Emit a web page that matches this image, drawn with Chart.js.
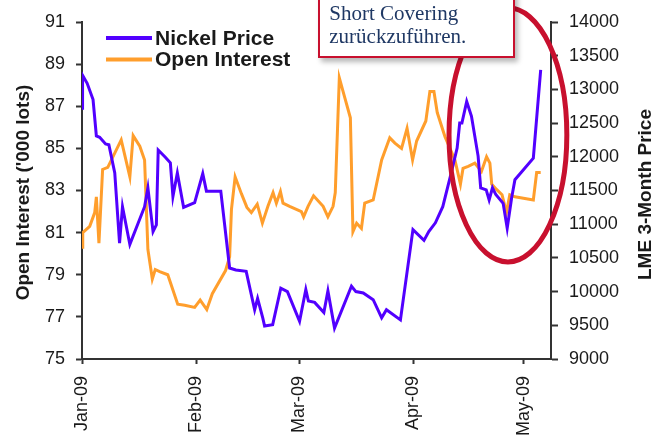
<!DOCTYPE html>
<html>
<head>
<meta charset="utf-8">
<script src="https://cdn.jsdelivr.net/npm/chart.js@4.4.1/dist/chart.umd.min.js"></script>
<style>
  html, body { margin: 0; padding: 0; background: #fff; }
  #wrap { position: relative; width: 653px; height: 435px; overflow: hidden; }
  #chart { position: absolute; left: 0; top: 0; }
  .note {
    position: absolute; left: 318px; top: -10px; width: 197px; height: 68px;
    box-sizing: border-box; border: 2px solid #C8102E; background: #fff;
    box-shadow: 3px 4px 5px rgba(0,0,0,0.28);
    font-family: 'Liberation Serif', 'Times New Roman', serif;
    font-size: 21px; line-height: 22.6px; color: #1F3864;
    padding: 10.3px 0 0 9.3px; white-space: nowrap;
  }
</style>
</head>
<body>
<div id="wrap">
  <canvas id="chart" width="653" height="435"></canvas>
  <div class="note">Short Covering<br>zurückzuführen.</div>
</div>
<script>
// Days counted from 1 Jan 2009
const monthTicks  = [0, 31, 59, 90, 120];
const monthLabels = ['Jan-09', 'Feb-09', 'Mar-09', 'Apr-09', 'May-09'];

// LME 3-month nickel price (USD/t), right axis
const nickelDays = [0, 0.15, 1.4, 3.0, 3.9, 4.8, 6.4, 7.3, 8.9, 10.2,
  11.0, 13.0, 17.0, 17.9, 19.3, 20.2, 20.7, 22.7, 24.0, 24.7,
  25.9, 27.6, 30.6, 32.8, 33.8, 37.7, 40.1, 41.8, 44.6, 46.9,
  47.7, 49.1, 49.6, 51.8, 54.0, 55.8, 59.1, 60.8, 61.5, 63.2,
  65.7, 66.8, 68.6, 73.2, 74.4, 76.4, 79.1, 81.4, 82.7, 86.5,
  89.9, 92.9, 94.2, 96.0, 98.0, 100.3, 101.9, 102.6, 103.2, 104.5,
  105.8, 107.6, 108.3, 109.8, 110.6, 111.5, 112.4, 114.4, 115.5, 116.7,
  117.6, 122.6, 124.6];
const nickelPrice = [12720, 13210, 13090, 12850, 12310, 12290, 12190, 12180, 11760, 10720,
  11260, 10700, 11260, 11540, 10890, 10990, 12100, 11990, 11910, 11410,
  11760, 11250, 11320, 11750, 11490, 11490, 10350, 10320, 10300, 9730,
  9900, 9610, 9490, 9510, 10050, 10000, 9560, 10030, 9860, 9840,
  9690, 10010, 9460, 10080, 10000, 9980, 9880, 9610, 9730, 9580,
  10920, 10760, 10890, 11020, 11260, 11760, 12130, 12500, 12500, 12820,
  12600, 12010, 11540, 11510, 11360, 11540, 11440, 11310, 10940, 11390,
  11660, 11980, 13290];

// Open interest ('000 lots), left axis
const oiDays = [0, 0.2, 2.1, 3.45, 3.9, 4.6, 5.6, 7.0, 10.65, 13.0,
  13.9, 15.7, 17.0, 17.9, 19.1, 19.9, 21.1, 23.3, 26.0, 27.9,
  30.6, 32.1, 33.9, 35.4, 39.0, 40.1, 40.6, 41.6, 43.3, 44.8,
  46.0, 47.6, 49.0, 50.5, 51.9, 52.8, 53.9, 54.6, 56.4, 59.6,
  60.2, 61.4, 62.9, 65.5, 66.8, 68.2, 68.8, 69.9, 71.4, 72.9,
  73.6, 74.6, 75.9, 76.8, 79.1, 81.4, 83.6, 85.0, 86.8, 88.3,
  89.8, 90.9, 93.4, 94.5, 95.6, 96.5, 98.6, 101.3, 102.8, 103.5,
  104.9, 106.7, 108.5, 109.9, 110.8, 111.3, 112.6, 114.1, 115.3, 116.2,
  117.6, 122.6, 123.5, 124.6];
const openInterest = [80.3, 81.0, 81.3, 81.95, 82.7, 80.5, 84.0, 84.1, 85.4, 83.65,
  85.6, 85.1, 84.45, 80.2, 78.8, 79.25, 79.15, 79.0, 77.6, 77.55,
  77.45, 77.8, 77.35, 78.1, 79.2, 79.85, 82.1, 83.65, 82.85, 82.2,
  81.95, 82.35, 81.45, 82.25, 82.9, 82.4, 82.95, 82.4, 82.25, 82.0,
  81.75, 82.25, 82.75, 82.25, 81.75, 82.25, 82.9, 88.35, 87.4, 86.45,
  81.05, 81.45, 81.2, 82.4, 82.55, 84.45, 85.5, 85.25, 85.0, 85.95,
  84.45, 85.35, 86.3, 87.7, 87.7, 86.7, 85.55, 84.45, 83.3, 84.05,
  84.15, 84.3, 83.9, 84.6, 84.3, 83.3, 83.05, 82.8, 81.95, 82.8,
  82.7, 82.55, 83.85, 83.85];

// Highlighted late-April window (days, price axis)
const ringDays  = [99.7, 131.7];
const ringPrice = [10440, 14210];

const leftTitle  = "Open Interest ('000 lots)";
const rightTitle = 'LME 3-Month Price';

const FONT = "'Liberation Sans', Arial, Helvetica, sans-serif";
const INK = '#1a1a1a';
const AXIS = '#333';

const toPoints = (xs, ys) => xs.map((d, i) => ({ x: d, y: ys[i] }));

const overlay = {
  id: 'overlay',
  afterDatasetsDraw(chart) {
    const { ctx } = chart;
    const xs = chart.scales.x, ys = chart.scales.y1;
    const x0 = xs.getPixelForValue(ringDays[0]), x1 = xs.getPixelForValue(ringDays[1]);
    const y0 = ys.getPixelForValue(ringPrice[0]), y1 = ys.getPixelForValue(ringPrice[1]);
    ctx.save();
    ctx.beginPath();
    ctx.ellipse((x0 + x1) / 2, (y0 + y1) / 2, Math.abs(x1 - x0) / 2, Math.abs(y1 - y0) / 2, 0, 0, Math.PI * 2);
    ctx.lineWidth = 5;
    ctx.strokeStyle = '#C8102E';
    ctx.stroke();
    ctx.restore();
  },
  afterDraw(chart) {
    const { ctx } = chart;
    ctx.save();
    // legend
    ctx.font = 'bold 21px ' + FONT;
    ctx.textBaseline = 'middle';
    ctx.textAlign = 'left';
    chart.data.datasets.forEach((ds, i) => {
      const y = 38 + i * 21.5;
      ctx.beginPath();
      ctx.moveTo(106, y);
      ctx.lineTo(152, y);
      ctx.lineWidth = 4;
      ctx.strokeStyle = ds.borderColor;
      ctx.stroke();
      ctx.fillStyle = INK;
      ctx.fillText(ds.label, 155, y + 1);
    });
    // axis titles, both reading upwards
    ctx.font = 'bold 19px ' + FONT;
    ctx.textAlign = 'center';
    ctx.textBaseline = 'alphabetic';
    ctx.fillStyle = INK;
    const mid = (chart.chartArea.top + chart.chartArea.bottom) / 2 + 2;
    ctx.save();
    ctx.translate(28.5, mid);
    ctx.rotate(-Math.PI / 2);
    ctx.fillText(leftTitle, 0, 0);
    ctx.restore();
    ctx.save();
    ctx.translate(651, mid + 2);
    ctx.rotate(-Math.PI / 2);
    ctx.fillText(rightTitle, 0, 0);
    ctx.restore();
    ctx.restore();
  }
};

new Chart(document.getElementById('chart'), {
  type: 'line',
  data: {
    datasets: [
      {
        label: 'Nickel Price',
        data: toPoints(nickelDays, nickelPrice),
        yAxisID: 'y1',
        borderColor: '#5200FF',
        borderWidth: 3,
        pointRadius: 0,
        tension: 0,
        fill: false
      },
      {
        label: 'Open Interest',
        data: toPoints(oiDays, openInterest),
        yAxisID: 'y',
        borderColor: '#FF9E2C',
        borderWidth: 3,
        pointRadius: 0,
        tension: 0,
        fill: false
      }
    ]
  },
  options: {
    responsive: false,
    animation: false,
    layout: { padding: { top: 22, left: 0, right: 0, bottom: 0 } },
    plugins: { legend: { display: false }, tooltip: { enabled: false } },
    scales: {
      x: {
        type: 'linear',
        min: 0,
        max: 127.4,
        afterBuildTicks(scale) { scale.ticks = monthTicks.map(v => ({ value: v })); },
        afterFit(scale) { scale.height = 76; },
        grid: { display: true, drawOnChartArea: false, drawTicks: true, tickLength: 5, tickColor: AXIS, tickWidth: 2 },
        border: { display: true, color: AXIS, width: 2 },
        ticks: {
          autoSkip: false,
          minRotation: 90,
          maxRotation: 90,
          padding: 12,
          color: INK,
          font: { family: FONT, size: 18 },
          callback: (v) => monthLabels[monthTicks.indexOf(v)]
        }
      },
      y: {
        position: 'left',
        min: 75,
        max: 91,
        afterFit(scale) { scale.width = 82; },
        grid: { display: true, drawOnChartArea: false, drawTicks: true, tickLength: 6, tickColor: AXIS, tickWidth: 2 },
        border: { display: true, color: AXIS, width: 2 },
        ticks: { stepSize: 2, padding: 11, color: INK, font: { family: FONT, size: 18 }, callback: (v) => String(v) }
      },
      y1: {
        position: 'right',
        min: 9000,
        max: 14000,
        afterFit(scale) { scale.width = 102; },
        grid: { display: true, drawOnChartArea: false, drawTicks: true, tickLength: 7, tickColor: AXIS, tickWidth: 2 },
        border: { display: true, color: AXIS, width: 2 },
        ticks: { stepSize: 500, padding: 11, color: INK, font: { family: FONT, size: 18 }, callback: (v) => String(v) }
      }
    }
  },
  plugins: [overlay]
});
</script>
</body>
</html>
